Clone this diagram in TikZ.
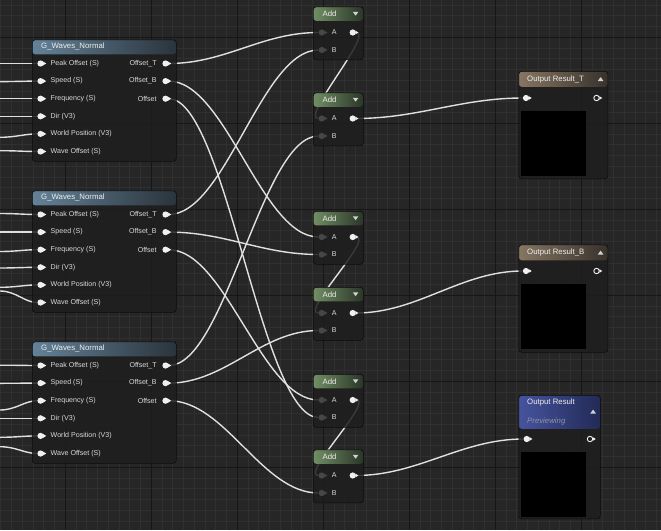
\documentclass[tikz,border=0pt]{standalone}
\usepackage{fontspec}
\setmainfont{Liberation Sans}
\usetikzlibrary{positioning,calc}

\definecolor{uegrid}{RGB}{38,38,38}
\definecolor{ueminor}{RGB}{48,48,48}
\definecolor{uemajor}{RGB}{22,22,22}
\definecolor{uebody}{RGB}{29,30,29}
\definecolor{ueedge}{RGB}{12,12,12}
\definecolor{uetext}{RGB}{218,218,218}
\definecolor{uehead}{RGB}{238,238,238}
\definecolor{uewire}{RGB}{224,224,224}
\definecolor{uepin}{RGB}{240,240,240}
\definecolor{uepinoff}{RGB}{70,72,70}
\definecolor{funclt}{RGB}{100,130,152}
\definecolor{funcdk}{RGB}{42,52,60}
\definecolor{addlt}{RGB}{112,142,100}
\definecolor{adddk}{RGB}{42,54,40}
\definecolor{reslt}{RGB}{134,118,98}
\definecolor{resdk}{RGB}{56,50,44}
\definecolor{prevlt}{RGB}{70,84,158}
\definecolor{prevdk}{RGB}{34,42,86}
\definecolor{prevtext}{RGB}{140,148,170}

\pgfdeclarelayer{grid}
\pgfdeclarelayer{wires}
\pgfsetlayers{grid,wires,main}

\tikzset{
  uelbl/.style={font=\fontsize{7.1}{8}\selectfont, text=uetext, inner sep=0.4pt},
  uetitle/.style={font=\fontsize{7.8}{9}\selectfont, text=uehead, inner sep=0pt},
  uebox/.style n args={3}{
    draw=ueedge, fill=uebody, fill opacity=0.86, line width=0.6pt,
    rounded corners=3pt, inner sep=0pt, anchor=north west,
    path picture={\shade[left color=#1, right color=#2, fill opacity=1]
      (path picture bounding box.north west) rectangle
      ([yshift=-#3]path picture bounding box.north east);}
  },
  pinbase/.style={circle, inner sep=0pt, minimum size=6.2pt},
  pinin/.style={pinbase, fill=#1,
    append after command={\pgfextra{\fill[#1] (\tikzlastnode.35)
      -- ([xshift=2.4pt]\tikzlastnode.east) -- (\tikzlastnode.-35) -- cycle;}}},
  pinin/.default=uepin,
  pinoff/.style={pinin=uepinoff},
  pinhollow/.style={pinbase, draw=uepin, line width=0.9pt, minimum size=5.4pt,
    append after command={\pgfextra{\fill[uepin] ([xshift=0.3pt]\tikzlastnode.35)
      -- ([xshift=2.6pt]\tikzlastnode.east) -- ([xshift=0.3pt]\tikzlastnode.-35) -- cycle;}}},
  inlbl/.style={label={[uelbl, label distance=6.3pt]right:#1}},
  outlbl/.style={label={[uelbl, label distance=5pt]left:#1}},
  preview/.style={fill=black, inner sep=0pt, anchor=north west,
    minimum width=65pt, minimum height=65pt},
  uetri/.style={fill=white!82!black},
  wire/.style={draw=uewire, line width=1.4pt},
  minorln/.style={draw=ueminor, line width=0.5pt},
  majorln/.style={draw=uemajor, line width=0.8pt},
}

\begin{document}
\begin{tikzpicture}[x=1pt, y=-1pt]
  \useasboundingbox (0,0) rectangle (661,530);

  % grid
  \begin{pgfonlayer}{grid}
    \fill[uegrid] (0,0) rectangle (661,530);
    \foreach \i in {-6,...,55} \draw[minorln] ({65+10.75*\i},0) -- ({65+10.75*\i},530);
    \foreach \j in {-3,...,45} \draw[minorln] (0,{37+10.75*\j}) -- (661,{37+10.75*\j});
    \foreach \i in {0,...,6} \draw[majorln] ({65+86*\i},0) -- ({65+86*\i},530);
    \foreach \j in {0,...,5} \draw[majorln] (0,{37+86*\j}) -- (661,{37+86*\j});
  \end{pgfonlayer}

  % G_Waves_Normal 1
  \node[uebox={funclt}{funcdk}{14.5pt}, minimum width=144pt, minimum height=121.5pt] (g1) at (32,39.5) {};
  \node[uetitle, anchor=west] (g1-t) at (41,46.5) {G\_Waves\_Normal};
  \node[pinin, inlbl=Peak Offset (S)] (g1-pk) at (40.5,63.5) {};
  \node[pinin, inlbl=Speed (S)] (g1-sp) at (40.5,81.1) {};
  \node[pinin, inlbl=Frequency (S)] (g1-fr) at (40.5,98.7) {};
  \node[pinin, inlbl=Dir (V3)] (g1-di) at (40.5,116.3) {};
  \node[pinin, inlbl=World Position (V3)] (g1-wp) at (40.5,133.9) {};
  \node[pinin, inlbl=Wave Offset (S)] (g1-wo) at (40.5,151.5) {};
  \node[pinin, outlbl=Offset\_T] (g1-ot) at (165.5,63.5) {};
  \node[pinin, outlbl=Offset\_B] (g1-ob) at (165.5,81.1) {};
  \node[pinin, outlbl=Offset] (g1-of) at (165.5,98.7) {};

  % G_Waves_Normal 2
  \node[uebox={funclt}{funcdk}{14.5pt}, minimum width=144pt, minimum height=121.5pt] (g2) at (32,190.5) {};
  \node[uetitle, anchor=west] (g2-t) at (41,197.5) {G\_Waves\_Normal};
  \node[pinin, inlbl=Peak Offset (S)] (g2-pk) at (40.5,214.5) {};
  \node[pinin, inlbl=Speed (S)] (g2-sp) at (40.5,232.1) {};
  \node[pinin, inlbl=Frequency (S)] (g2-fr) at (40.5,249.7) {};
  \node[pinin, inlbl=Dir (V3)] (g2-di) at (40.5,267.3) {};
  \node[pinin, inlbl=World Position (V3)] (g2-wp) at (40.5,284.9) {};
  \node[pinin, inlbl=Wave Offset (S)] (g2-wo) at (40.5,302.5) {};
  \node[pinin, outlbl=Offset\_T] (g2-ot) at (165.5,214.5) {};
  \node[pinin, outlbl=Offset\_B] (g2-ob) at (165.5,232.1) {};
  \node[pinin, outlbl=Offset] (g2-of) at (165.5,249.7) {};

  % G_Waves_Normal 3
  \node[uebox={funclt}{funcdk}{14.5pt}, minimum width=144pt, minimum height=121.5pt] (g3) at (32,341.5) {};
  \node[uetitle, anchor=west] (g3-t) at (41,348.5) {G\_Waves\_Normal};
  \node[pinin, inlbl=Peak Offset (S)] (g3-pk) at (40.5,365.5) {};
  \node[pinin, inlbl=Speed (S)] (g3-sp) at (40.5,383.1) {};
  \node[pinin, inlbl=Frequency (S)] (g3-fr) at (40.5,400.7) {};
  \node[pinin, inlbl=Dir (V3)] (g3-di) at (40.5,418.3) {};
  \node[pinin, inlbl=World Position (V3)] (g3-wp) at (40.5,435.9) {};
  \node[pinin, inlbl=Wave Offset (S)] (g3-wo) at (40.5,453.5) {};
  \node[pinin, outlbl=Offset\_T] (g3-ot) at (165.5,365.5) {};
  \node[pinin, outlbl=Offset\_B] (g3-ob) at (165.5,383.1) {};
  \node[pinin, outlbl=Offset] (g3-of) at (165.5,400.7) {};

  % Add nodes
  \node[uebox={addlt}{adddk}{14pt}, minimum width=50pt, minimum height=53pt] (a1) at (313,6.5) {};
  \node[uebox={addlt}{adddk}{14pt}, minimum width=50pt, minimum height=53pt] (a2) at (313,92.5) {};
  \node[uebox={addlt}{adddk}{14pt}, minimum width=50pt, minimum height=53pt] (a3) at (313,211) {};
  \node[uebox={addlt}{adddk}{14pt}, minimum width=50pt, minimum height=53pt] (a4) at (313,287) {};
  \node[uebox={addlt}{adddk}{14pt}, minimum width=50pt, minimum height=53pt] (a5) at (313,374) {};
  \node[uebox={addlt}{adddk}{14pt}, minimum width=50pt, minimum height=53pt] (a6) at (313,449.5) {};
  \foreach \n in {a1,a2,a3,a4,a5,a6} {
    \node[uetitle] (\n-t) at ([shift={(16.5pt,-7.5pt)}]\n.north west) {Add};
    \fill[uetri] ([shift={(-10.8pt,-5.3pt)}]\n.north east) -- ++(5.6pt,0) -- ++(-2.8pt,-3.9pt) -- cycle;
    \node[pinoff, inlbl=A] (\n-a) at ([shift={(8.7pt,-26pt)}]\n.north west) {};
    \node[pinoff, inlbl=B] (\n-b) at ([shift={(8.7pt,-43.5pt)}]\n.north west) {};
    \node[pinin] (\n-o) at ([shift={(39.7pt,-26pt)}]\n.north west) {};
  }

  % Output Result_T
  \node[uebox={reslt}{resdk}{15.5pt}, minimum width=89pt, minimum height=107.5pt] (ot) at (518.5,71) {};
  \node[uetitle, anchor=west] (ot-t) at (527,79) {Output Result\_T};
  \fill[uetri] ([shift={(-10.3pt,-10pt)}]ot.north east) -- ++(5.6pt,0) -- ++(-2.8pt,3.9pt) -- cycle;
  \node[pinin] (ot-in) at (526,98) {};
  \node[pinhollow] (ot-out) at (596.5,98) {};
  \node[preview] (ot-pv) at (521,110.7) {};

  % Output Result_B
  \node[uebox={reslt}{resdk}{15.5pt}, minimum width=89pt, minimum height=107.5pt] (ob) at (518.5,244.5) {};
  \node[uetitle, anchor=west] (ob-t) at (527,252.5) {Output Result\_B};
  \fill[uetri] ([shift={(-10.3pt,-10pt)}]ob.north east) -- ++(5.6pt,0) -- ++(-2.8pt,3.9pt) -- cycle;
  \node[pinin] (ob-in) at (526,271) {};
  \node[pinhollow] (ob-out) at (596.5,271) {};
  \node[preview] (ob-pv) at (521,284.2) {};

  % Output Result (previewing)
  \node[uebox={prevlt}{prevdk}{33.5pt}, minimum width=81.5pt, minimum height=123.5pt] (or) at (518.5,395) {};
  \node[uetitle, anchor=west] (or-t) at (527,402.5) {Output Result};
  \node[uetitle, anchor=west, text=prevtext, font=\fontsize{7.8}{9}\selectfont\itshape] (or-pv-t) at (527,421.5) {Previewing};
  \fill[uetri] ([shift={(-10.3pt,-18.5pt)}]or.north east) -- ++(5.6pt,0) -- ++(-2.8pt,3.9pt) -- cycle;
  \node[pinin] (or-in) at (526.7,439) {};
  \node[pinhollow] (or-out) at (590,439) {};
  \node[preview] (or-pv) at (521,452) {};

  % wires
  \begin{pgfonlayer}{wires}
    \foreach \p/\y in {g1-pk/63.5, g1-sp/81.6, g1-fr/98.7, g1-di/116.3, g1-wp/137.3, g1-wo/150.7,
        g2-pk/213.5, g2-sp/232.1, g2-fr/251.5, g2-di/268, g2-wp/287.3, g2-wo/291,
        g3-pk/365.2, g3-sp/383.3, g3-fr/410, g3-di/418.3, g3-wp/437.3, g3-wo/446.7} {
      \coordinate (\p-src) at (0,\y);
      \draw[wire] (\p-src) .. controls +(16,0) and +(-16,0) .. (\p);
    }

    \draw[wire] (g1-ot) .. controls +(60,0) and +(-60,0) .. (a1-a);
    \draw[wire] (g2-ot) .. controls +(60,0) and +(-60,0) .. (a1-b);
    \draw[wire] (a1-o) .. controls +(22,0) and +(-22,0) .. (a2-a);
    \draw[wire] (g3-ot) .. controls +(60,0) and +(-60,0) .. (a2-b);
    \draw[wire] (a2-o) .. controls +(65,0) and +(-65,0) .. (ot-in);

    \draw[wire] (g1-ob) .. controls +(60,0) and +(-60,0) .. (a3-a);
    \draw[wire] (g2-ob) .. controls +(60,0) and +(-60,0) .. (a3-b);
    \draw[wire] (a3-o) .. controls +(22,0) and +(-22,0) .. (a4-a);
    \draw[wire] (g3-ob) .. controls +(60,0) and +(-60,0) .. (a4-b);
    \draw[wire] (a4-o) .. controls +(65,0) and +(-65,0) .. (ob-in);

    \draw[wire] (g2-of) .. controls +(60,0) and +(-60,0) .. (a5-a);
    \draw[wire] (g1-of) .. controls +(60,0) and +(-60,0) .. (a5-b);
    \draw[wire] (a5-o) .. controls +(22,0) and +(-22,0) .. (a6-a);
    \draw[wire] (g3-of) .. controls +(60,0) and +(-60,0) .. (a6-b);
    \draw[wire] (a6-o) .. controls +(65,0) and +(-65,0) .. (or-in);
  \end{pgfonlayer}
\end{tikzpicture}
\end{document}
